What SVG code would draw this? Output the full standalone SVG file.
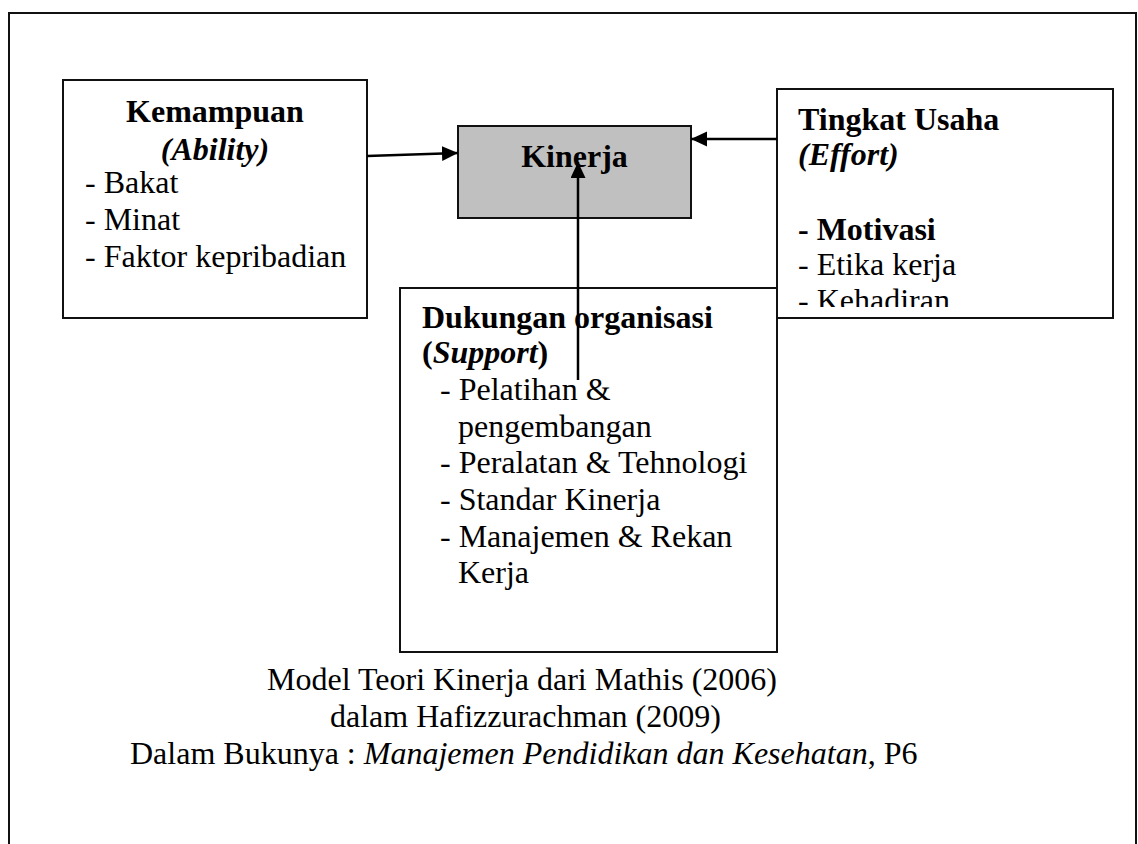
<svg xmlns="http://www.w3.org/2000/svg" width="1138" height="844" viewBox="0 0 1138 844">
  <style>
    .box { fill: #ffffff; stroke: #111111; stroke-width: 2; }
    .core { fill: #c0c0c0; stroke: #111111; stroke-width: 2; }
    .t { font-family: "Liberation Serif", "Times New Roman", serif; font-size: 32px; fill: #000000; }
    .b { font-weight: bold; }
    .i { font-style: italic; }
    .conn { stroke: #000000; stroke-width: 2.5; fill: none; marker-end: url(#arrow); }
  </style>
  <defs>
    <marker id="arrow" markerUnits="userSpaceOnUse" markerWidth="18" markerHeight="16" refX="16" refY="7.5" orient="auto">
      <path d="M0,0 L16,7.5 L0,15 z" fill="#000000"/>
    </marker>
    <clipPath id="effortClip">
      <rect x="778" y="90" width="334" height="217"/>
    </clipPath>
  </defs>

  <!-- page frame -->
  <rect x="9" y="13" width="1127" height="900" fill="none" stroke="#111111" stroke-width="2"/>

  <g id="node-kemampuan">
    <rect class="box" x="63" y="80" width="304" height="238"/>
    <text class="t b" x="215" y="122" text-anchor="middle">Kemampuan</text>
    <text class="t b i" x="215" y="160" text-anchor="middle">(Ability)</text>
    <text class="t" x="85" y="193">- Bakat</text>
    <text class="t" x="85" y="230">- Minat</text>
    <text class="t" x="85" y="267">- Faktor kepribadian</text>
  </g>

  <g id="node-kinerja">
    <rect class="core" x="458" y="126" width="233" height="92"/>
    <text class="t b" x="574.5" y="167" text-anchor="middle">Kinerja</text>
  </g>

  <g id="node-usaha">
    <rect class="box" x="777" y="89" width="336" height="229"/>
    <g clip-path="url(#effortClip)">
      <text class="t b" x="798" y="130">Tingkat Usaha</text>
      <text class="t b i" x="798" y="165">(Effort)</text>
      <text class="t b" x="798" y="240">- Motivasi</text>
      <text class="t" x="798" y="275">- Etika kerja</text>
      <text class="t" x="798" y="311">- Kehadiran</text>
    </g>
  </g>

  <g id="node-dukungan">
    <rect class="box" x="400" y="288" width="377" height="364"/>
    <text class="t b" x="422" y="328">Dukungan organisasi</text>
    <text class="t b" x="422" y="363">(<tspan class="i">Support</tspan>)</text>
    <text class="t" x="440" y="400">- Pelatihan &amp;</text>
    <text class="t" x="458" y="437">pengembangan</text>
    <text class="t" x="440" y="473">- Peralatan &amp; Tehnologi</text>
    <text class="t" x="440" y="510">- Standar Kinerja</text>
    <text class="t" x="440" y="547">- Manajemen &amp; Rekan</text>
    <text class="t" x="458" y="583">Kerja</text>
  </g>

  <g id="connectors">
    <line class="conn" x1="367" y1="156" x2="458" y2="153"/>
    <line class="conn" x1="777" y1="139" x2="691" y2="139"/>
    <line class="conn" x1="578" y1="380" x2="578" y2="162"/>
  </g>

  <g id="caption">
    <text class="t" x="267" y="690">Model Teori Kinerja dari Mathis (2006)</text>
    <text class="t" x="330" y="727">dalam Hafizzurachman (2009)</text>
    <text class="t" x="130" y="764">Dalam Bukunya : <tspan class="i">Manajemen Pendidikan dan Kesehatan</tspan>, P6</text>
  </g>
</svg>
